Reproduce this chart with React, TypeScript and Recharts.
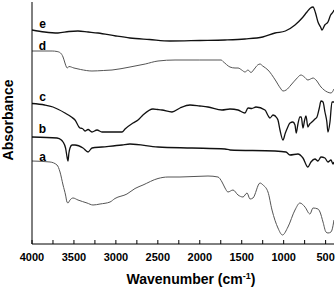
import { LineChart, Line, XAxis, YAxis, ReferenceDot } from "recharts";

const FONT = '"Liberation Sans", Arial, Helvetica, sans-serif';

// FTIR spectra, wavenumber (cm-1) vs. offset absorbance (arb. units)
const aWn = [4000, 3785, 3702, 3666, 3630, 3600, 3583, 3571, 3547, 3511, 3452, 3344, 3273, 3189, 3070, 3011, 2868, 2772, 2677, 2498, 2379, 2236, 1902, 1783, 1735, 1699, 1664, 1604, 1544, 1485, 1437, 1401, 1366, 1282, 1246, 1187, 1139, 1068, 1014, 949, 865, 806, 746, 687, 650, 591, 567, 531, 496, 472, 436, 424, 400];
const aAbs = [83, 82, 79, 72, 59, 49, 42, 41, 44, 46, 44, 41, 39, 40, 42, 45.5, 50, 55.5, 59, 65.5, 67, 67, 68, 67, 62, 56, 52, 54, 49, 47, 51, 45, 46, 61, 59, 52, 34, 16, 9, 17, 34, 41, 37, 30, 36, 35, 32, 22, 12, 11, 12, 14, 24];

const bWn = [4000, 3702, 3650, 3630, 3600, 3580, 3571, 3560, 3547, 3523, 3487, 3392, 3332, 3285, 3166, 2927, 2832, 2498, 2093, 1699, 1640, 1103, 973, 925, 830, 770, 711, 675, 627, 591, 555, 508, 472, 436, 412, 400];
const bAbs = [107, 106, 104, 102, 96, 86, 83, 91, 96, 99, 99, 96, 92, 96, 97, 99, 100, 97, 96, 95, 94, 93, 92, 89, 90, 86, 77, 82, 85, 83, 87, 86, 82, 84, 80, 82];

const cWn = [4000, 3850, 3750, 3607, 3530, 3487, 3428, 3400, 3368, 3332, 3285, 3225, 3166, 3050, 2927, 2891, 2796, 2736, 2677, 2558, 2500, 2450, 2331, 2236, 2117, 2000, 1902, 1735, 1640, 1544, 1461, 1425, 1380, 1330, 1223, 1187, 1163, 1127, 1080, 1068, 1044, 1008, 980, 961, 925, 890, 865, 850, 830, 806, 790, 770, 750, 734, 711, 690, 663, 627, 603, 575, 555, 531, 508, 485, 472, 448, 424, 400];
const cAbs = [140.5, 139, 137, 131, 127, 124, 116, 115.5, 113, 114.5, 112, 114, 112, 112, 112, 115, 121, 124, 129, 135, 134.5, 134, 132, 136, 139, 138, 137, 134, 135, 134, 131, 136, 135.5, 137, 134, 128.5, 126, 129, 126, 124, 114, 104, 111, 115, 121, 122, 119, 111, 120, 127, 127, 116, 124, 128, 117, 120, 122, 125, 127, 136, 143, 142, 132, 122, 112, 122, 142, 142];

const dWn = [4000, 3760, 3702, 3660, 3630, 3607, 3590, 3580, 3560, 3500, 3420, 3285, 3150, 3046, 2832, 2650, 2498, 2295, 2000, 1783, 1747, 1723, 1640, 1580, 1544, 1500, 1461, 1425, 1390, 1350, 1310, 1282, 1250, 1187, 1100, 1040, 1008, 970, 913, 850, 794, 760, 711, 680, 650, 620, 555, 480, 436, 400];
const dAbs = [193, 193, 192.5, 191, 187, 181, 177, 176, 177.5, 176, 174.5, 173, 173.5, 174, 177, 180, 183, 184, 184, 184, 184, 182.5, 177, 176, 176, 174, 172, 174, 171.5, 175, 179, 180, 178, 174, 164, 156, 153, 154, 159, 165, 169, 167.5, 164, 165, 166, 164.5, 157, 152, 151, 155];

const eWn = [4000, 3850, 3690, 3560, 3452, 3330, 3213, 3000, 2832, 2600, 2355, 2000, 1700, 1461, 1250, 1103, 980, 865, 780, 722, 680, 650, 620, 591, 560, 543, 510, 472, 440, 412, 400];
const eAbs = [214, 212, 211, 212.5, 213, 212, 211, 208, 206, 204.5, 203, 203.5, 204, 205, 207, 211, 213, 219, 226, 232, 236, 237, 231, 222, 217, 214, 219, 222, 229, 232, 234];

const traceNames = ["a", "b", "c", "d", "e"];
const labelAbs = [87, 115, 147, 198, 220.5];
const labelWn = 3875;

const xTicks = [4000, 3750, 3500, 3250, 3000, 2750, 2500, 2250, 2000, 1750, 1500, 1250, 1000, 750, 500];

const pairs = (wn: number[], abs: number[]) => wn.map((w, i) => ({ wn: w, abs: abs[i] }));

const series = [
  { name: "a", data: pairs(aWn, aAbs), color: "#555", width: 1 },
  { name: "b", data: pairs(bWn, bAbs), color: "#111", width: 1.3 },
  { name: "c", data: pairs(cWn, cAbs), color: "#111", width: 1.3 },
  { name: "d", data: pairs(dWn, dAbs), color: "#555", width: 1 },
  { name: "e", data: pairs(eWn, eAbs), color: "#111", width: 1.3 },
];

function WnTick({ x, y, payload }: any) {
  const major = payload.value % 500 === 0;
  return (
    <g>
      <line x1={x} y1={y} x2={x} y2={y - 4} stroke="#000" strokeWidth={1} />
      {major && (
        <text
          x={x}
          y={y + 17}
          textAnchor="middle"
          fontSize={11}
          fontWeight="bold"
          fontFamily={FONT}
          fill="#000"
        >
          {payload.value}
        </text>
      )}
    </g>
  );
}

function WnTitle({ viewBox }: any) {
  const cx = viewBox.x + viewBox.width / 2 + 8;
  return (
    <text
      x={cx}
      y={viewBox.y + 40}
      textAnchor="middle"
      fontSize={14}
      fontWeight="bold"
      fontFamily={FONT}
      fill="#000"
    >
      Wavenumber (cm
      <tspan dy={-5} fontSize={9}>
        -1
      </tspan>
      <tspan dy={5}>)</tspan>
    </text>
  );
}

export default function App() {
  return (
    <div style={{ position: "absolute", left: 0, top: 0, background: "#fff" }}>
      <LineChart
        width={336}
        height={291}
        margin={{ top: 2, right: 2, bottom: 0, left: 0 }}
      >
        <XAxis
          dataKey="wn"
          type="number"
          domain={[400, 4000]}
          reversed
          allowDataOverflow
          ticks={xTicks}
          interval={0}
          tick={<WnTick />}
          tickLine={false}
          tickSize={0}
          tickMargin={0}
          height={47}
          axisLine={{ stroke: "#000", strokeWidth: 1 }}
          label={<WnTitle />}
        />
        <XAxis
          xAxisId="top"
          orientation="top"
          type="number"
          domain={[400, 4000]}
          reversed
          allowDataOverflow
          height={0}
          tick={false}
          tickLine={false}
          axisLine={{ stroke: "#777", strokeWidth: 1 }}
        />
        <YAxis
          type="number"
          domain={[0, 242]}
          allowDataOverflow
          width={32}
          tick={false}
          tickLine={false}
          axisLine={{ stroke: "#000", strokeWidth: 1 }}
          label={{
            value: "Absorbance",
            angle: -90,
            position: "center",
            dx: -8,
            dy: -3,
            style: {
              fontSize: 14,
              fontWeight: "bold",
              fontFamily: FONT,
              fill: "#000",
            },
          }}
        />
        <YAxis
          yAxisId="right"
          orientation="right"
          type="number"
          domain={[0, 242]}
          allowDataOverflow
          width={0}
          tick={false}
          tickLine={false}
          axisLine={{ stroke: "#777", strokeWidth: 1 }}
        />
        {series.map((s) => (
          <Line
            key={s.name}
            data={s.data}
            dataKey="abs"
            type="monotone"
            stroke={s.color}
            strokeWidth={s.width}
            dot={false}
            activeDot={false}
            isAnimationActive={false}
          />
        ))}
        {traceNames.map((n, i) => (
          <ReferenceDot
            key={n}
            x={labelWn}
            y={labelAbs[i]}
            r={0}
            fill="none"
            stroke="none"
            label={{
              value: n,
              position: "center",
              style: {
                fontSize: 12,
                fontWeight: "bold",
                fontFamily: FONT,
                fill: "#000",
              },
            }}
          />
        ))}
      </LineChart>
    </div>
  );
}
